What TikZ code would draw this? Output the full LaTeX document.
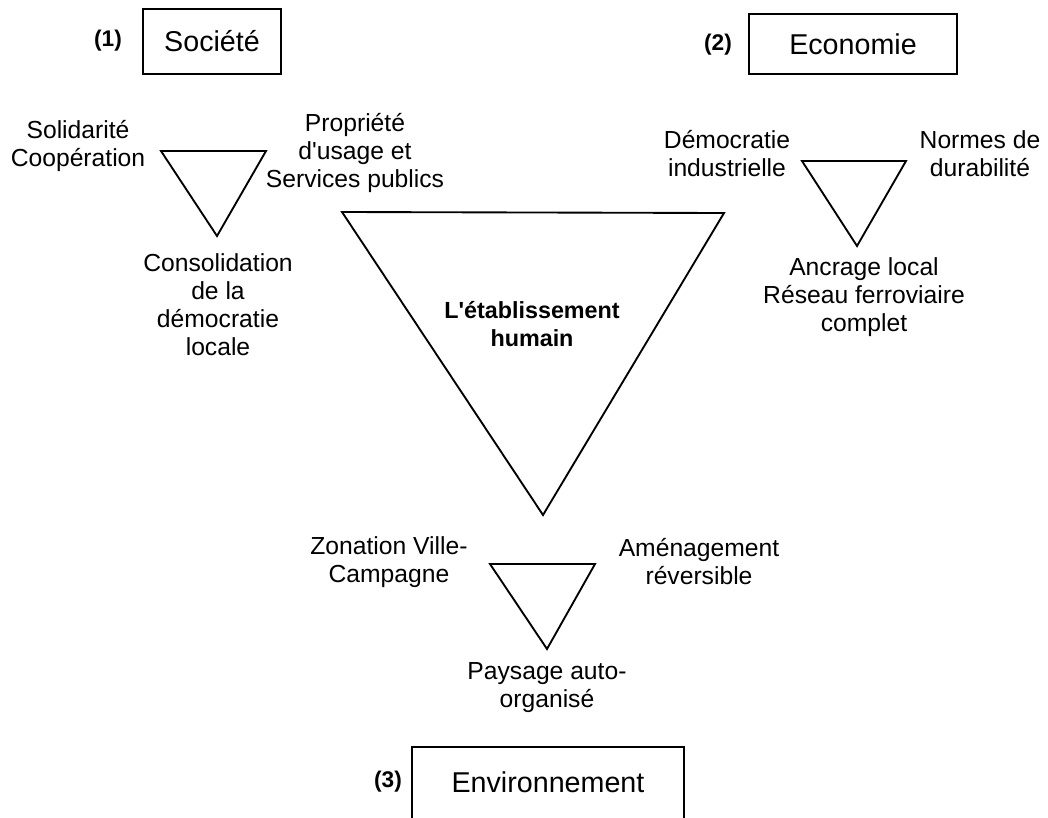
\documentclass[tikz,border=0pt]{standalone}
\usepackage{fontspec}
\setmainfont{Liberation Sans}[Ligatures=TeXOff]

\begin{document}
\begin{tikzpicture}[x=0.75pt,y=-0.75pt,
        lbl/.style={align=center,inner sep=0pt,font=\fontsize{18.5}{21}\selectfont},
        box/.style={draw,line width=1.4pt,inner sep=0pt,font=\fontsize{21.5}{24}\selectfont},
        num/.style={inner sep=0pt,font=\bfseries\fontsize{17}{20}\selectfont},
        tri/.style={draw,line width=1.4pt,line join=miter}]
        \useasboundingbox (0,0) rectangle (1048,817);
        \clip (0,0) rectangle (1048,817);

        % the three poles
        \node[box,minimum width=138*0.75pt,minimum height=65*0.75pt](soc)at(212,41.5){Soci\'et\'e};
        \node[num](n1)at(108,41){(1)};
        \node[box,minimum width=208*0.75pt,minimum height=60*0.75pt](eco)at(853,44){Economie};
        \node[num](n2)at(718,45){(2)};
        \draw[line width=1.4pt](412,830)--(412,747)--(684,747)--(684,830);
        \node[inner sep=0pt,font=\fontsize{21.5}{24}\selectfont](env)at(548,782){Environnement};
        \node[num](n3)at(388,782){(3)};

        % triangles
        \draw[tri](161,151)--(266,151)--(217,236)--cycle;
        \draw[tri](802,161)--(906,161)--(857,246)--cycle;
        \draw[tri](342,212)--(724,213)--(543,515)--cycle;
        \draw[tri](490,564)--(595,564)--(547,649)--cycle;

        % labels round the triangles
        \node[lbl](soli)at(78,146){Solidarit\'e\\Coop\'eration};
        \node[lbl](prop)at(355,153){Propri\'et\'e\\d'usage et\\Services publics};
        \node[lbl](cons)at(218,305){Consolidation\\de la\\d\'emocratie\\locale};
        \node[lbl,font=\bfseries\fontsize{17.5}{21}\selectfont](etab)at(532,324){L'\'etablissement\\humain};
        \node[lbl](demo)at(727,154){D\'emocratie\\industrielle};
        \node[lbl](norm)at(980,154){Normes de\\durabilit\'e};
        \node[lbl](ancr)at(864,297){Ancrage local\\R\'eseau ferroviaire\\complet};
        \node[lbl](zona)at(389,562){Zonation Ville-\\Campagne};
        \node[lbl](amen)at(699,562){Am\'enagement\\r\'eversible};
        \node[lbl](pays)at(547,688){Paysage auto-\\organis\'e};
    \end{tikzpicture}
\end{document}
